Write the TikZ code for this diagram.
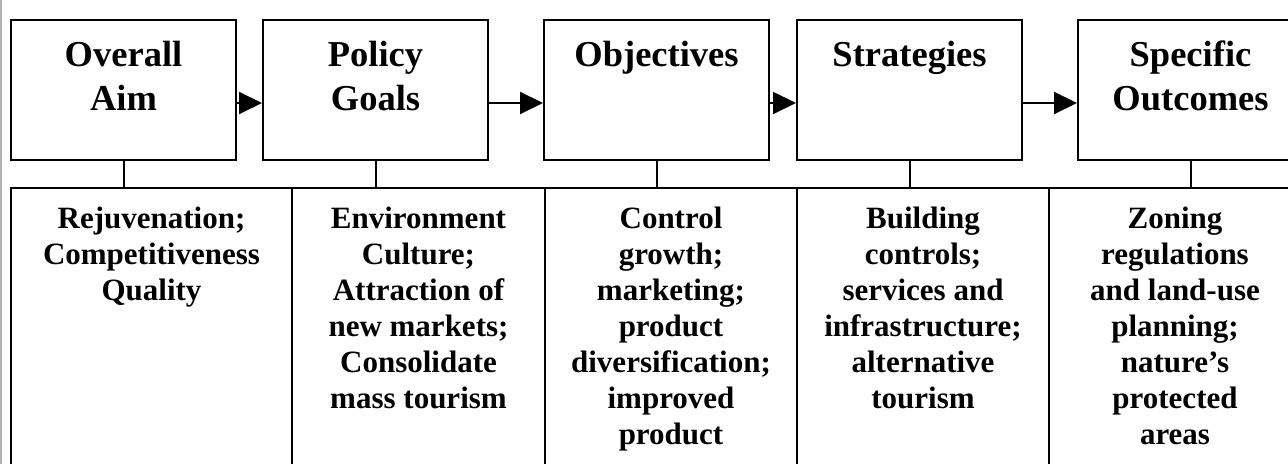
\documentclass[tikz,border=0pt]{standalone}
\usepackage{fontspec}
\setmainfont{Liberation Serif}
\usetikzlibrary{arrows.meta}

\tikzset{
  stagebox/.style={draw, line width=1pt, minimum width=112.5pt,
    minimum height=70pt, inner sep=0pt},
  cellbox/.style={draw, line width=1pt, minimum height=156pt, inner sep=0pt},
  stagetext/.style={anchor=north, inner sep=0pt, align=center,
    font=\fontsize{18.25}{22}\selectfont\bfseries},
  celltext/.style={anchor=north, inner sep=0pt, align=center,
    font=\fontsize{15.5}{18}\selectfont\bfseries},
  flow/.style={line width=1pt, -{Triangle[length=11.5pt,width=11pt]}},
}

\begin{document}
\begin{tikzpicture}[x=0.5pt, y=-0.5pt]
  \useasboundingbox (0,0) rectangle (1288,464);
  \fill[gray!60] (0,0) rectangle (1.5,464);

  % top row
  \node[stagebox] (aim)   at (123.5,90)  {};
  \node[stagebox] (goals) at (375.5,90)  {};
  \node[stagebox] (obj)   at (656.5,90)  {};
  \node[stagebox] (strat) at (909.5,90)  {};
  \node[stagebox] (outc)  at (1190.5,90) {};

  \node[stagetext] (aimtext)   at (123.5,35.7)  {\strut Overall\\Aim};
  \node[stagetext] (goalstext) at (375.5,35.7)  {\strut Policy\\Goals};
  \node[stagetext] (objtext)   at (656.5,35.7)  {\strut Objectives};
  \node[stagetext] (strattext) at (909.5,35.7)  {\strut Strategies};
  \node[stagetext] (outctext)  at (1190.5,35.7) {\strut Specific\\Outcomes};

  \draw[flow] ([yshift=-6.5pt]aim.east)   -- ([yshift=-6.5pt]goals.west);
  \draw[flow] ([yshift=-6.5pt]goals.east) -- ([yshift=-6.5pt]obj.west);
  \draw[flow] ([yshift=-6.5pt]obj.east)   -- ([yshift=-6.5pt]strat.west);
  \draw[flow] ([yshift=-6.5pt]strat.east) -- ([yshift=-6.5pt]outc.west);

  % bottom row
  \node[cellbox, minimum width=140.5pt] (aimcell)   at (151.5,344) {};
  \node[cellbox, minimum width=126.5pt] (goalscell) at (418.5,344) {};
  \node[cellbox, minimum width=126pt]   (objcell)   at (671,344)   {};
  \node[cellbox, minimum width=126pt]   (stratcell) at (923,344)   {};
  \node[cellbox, minimum width=126pt]   (outccell)  at (1175,344)  {};

  \draw[line width=1pt] (aim.south)   -- (aim.south |- aimcell.north);
  \draw[line width=1pt] (goals.south) -- (goals.south |- goalscell.north);
  \draw[line width=1pt] (obj.south)   -- (obj.south |- objcell.north);
  \draw[line width=1pt] (strat.south) -- (strat.south |- stratcell.north);
  \draw[line width=1pt] (outc.south)  -- (outc.south |- outccell.north);

  \node[celltext] (aimlist) at (151.5,202.8)
  {\strut Rejuvenation;\\Competitiveness\\Quality};
  \node[celltext] (goalslist) at (418.5,202.8)
  {\strut Environment\\Culture;\\Attraction of\\new markets;\\Consolidate\\mass tourism};
  \node[celltext] (objlist) at (671,202.8)
  {\strut Control\\growth;\\marketing;\\product\\diversification;\\improved\\product};
  \node[celltext] (stratlist) at (923,202.8)
  {\strut Building\\controls;\\services and\\infrastructure;\\alternative\\tourism};
  \node[celltext] (outclist) at (1175,202.8)
  {\strut Zoning\\regulations\\and land-use\\planning;\\nature’s\\protected\\areas};
\end{tikzpicture}
\end{document}
